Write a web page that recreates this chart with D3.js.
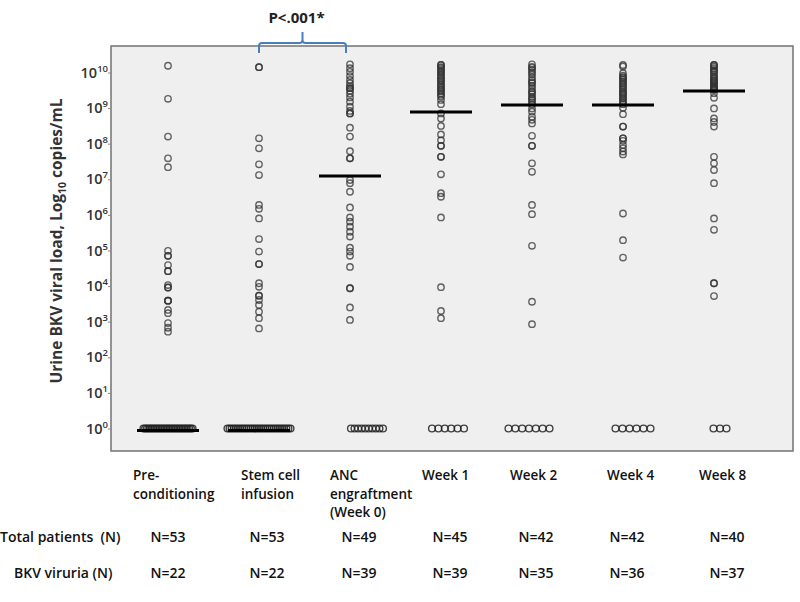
<!DOCTYPE html>
<html><head><meta charset="utf-8">
<script src="https://cdn.jsdelivr.net/npm/d3@7"></script>
<style>body{margin:0;background:#fff} svg{display:block} text{font-family:"Open Sans",sans-serif}</style>
</head><body><svg id="c" width="800" height="602"></svg>
<script>
// ---------- DATA ----------
const categories = ["Pre-conditioning","Stem cell infusion","ANC engraftment (Week 0)","Week 1","Week 2","Week 4","Week 8"];
const categoryLines = [["Pre-","conditioning"],["Stem cell","infusion"],["ANC","engraftment","(Week 0)"],["Week 1"],["Week 2"],["Week 4"],["Week 8"]];
const totalPatients = [53,53,49,45,42,42,40];
const bkvViruria = [22,22,39,39,35,36,37];
// detected urine BKV loads, log10 copies/mL (undetectable patients are plotted at 10^0)
const logLoadPre = [10.19,9.26,8.20,7.59,7.34,4.99,4.85,4.85,4.59,4.42,4.42,4.03,3.96,3.96,3.59,3.59,3.59,3.33,3.24,2.96,2.83,2.72];
const logLoadStem = [10.15,10.15,8.15,7.87,7.42,7.12,6.28,6.17,5.90,5.32,4.97,4.62,4.62,4.08,3.98,3.73,3.73,3.61,3.47,3.28,3.10,2.81];
const logLoadANC = [10.23,10.12,10.02,9.90,9.79,9.70,9.62,9.56,9.56,9.49,9.40,9.30,9.18,9.04,8.92,8.85,8.85,8.45,8.20,7.79,7.59,7.59,
  6.98,6.89,6.65,6.21,5.93,5.81,5.67,5.53,5.39,5.08,4.97,4.85,4.54,3.94,3.94,3.40,3.05];
const logLoadWk1 = [10.21,10.21,10.15,10.12,10.07,10.02,9.99,9.93,9.89,9.84,9.79,9.76,9.70,9.65,9.60,9.56,9.51,9.47,9.42,9.37,9.32,9.23,9.11,
  8.85,8.71,8.50,8.26,8.10,7.94,7.94,7.63,7.63,7.14,6.61,6.51,5.93,3.97,3.30,3.10];
const logLoadWk2 = [10.23,10.16,10.13,10.07,10.01,9.95,9.87,9.79,9.73,9.70,9.63,9.56,9.48,9.44,9.39,9.32,9.27,9.23,9.17,9.11,
  8.99,8.90,8.76,8.67,8.57,8.22,7.94,7.94,7.45,7.21,6.28,6.02,5.13,3.56,2.93];
const logLoadWk4 = [10.21,10.17,9.98,9.91,9.87,9.84,9.79,9.74,9.70,9.65,9.61,9.56,9.51,9.46,9.42,9.39,9.34,9.29,9.26,9.20,9.16,9.11,
  9.01,8.83,8.48,8.48,8.15,8.15,8.08,7.96,7.87,7.78,7.70,6.04,5.29,4.80];
const logLoadWk8 = [10.21,10.21,10.17,10.12,10.07,10.04,10.01,9.95,9.90,9.86,9.82,9.78,9.76,9.73,9.70,9.66,9.63,9.60,9.57,9.55,9.52,9.51,
  9.42,9.29,8.99,8.71,8.61,8.48,7.63,7.45,7.26,6.89,5.90,5.58,4.08,4.08,3.72];
const detectedLoads = [logLoadPre,logLoadStem,logLoadANC,logLoadWk1,logLoadWk2,logLoadWk4,logLoadWk8];
const medianLogLoad = [0,0,7.09,8.89,9.09,9.09,9.48];
const yTicks = [0,1,2,3,4,5,6,7,8,9,10];
const pValueText = "P<.001*";

// ---------- LAYOUT (style, not data) ----------
const zeroShift = [0,0,17,7,-3,10,6];
const zeroSpread = [49,63,32,32,41,35,13];
const catLabelDx = [-35,-18,-20,-19,-22,-16,-15];
const nLabelDx = [0,8,9,9,4,4,13];

const svg = d3.select("#c");
const plot = {x0:111, x1:793, y0:46, y1:451};
const x = d3.scalePoint().domain(categories).range([168,714]);
const y = d3.scaleLinear().domain([0,10]).range([428.5,72.5]);

svg.append("rect").attr("x",plot.x0).attr("y",plot.y0).attr("width",plot.x1-plot.x0).attr("height",plot.y1-plot.y0)
  .attr("fill","#efefef").attr("stroke","#7a7a7a").attr("stroke-width",1.6);

// y axis
const yAxis = d3.axisLeft(y).tickValues(yTicks).tickSize(3).tickFormat("");
const ga = svg.append("g").attr("transform",`translate(${plot.x0},0)`).call(yAxis);
ga.select(".domain").remove();
ga.selectAll("line").attr("stroke","#888");
yTicks.forEach(k=>{
  const t = svg.append("text").attr("x",108).attr("y",y(k)+5).attr("text-anchor","end")
    .attr("font-size",14.5).attr("font-weight",600).attr("fill","#333");
  t.append("tspan").text("10");
  t.append("tspan").attr("font-size",9.5).attr("dy",-6).text(k);
});
const yt = svg.append("text").attr("transform",`translate(62,241) rotate(-90)`).attr("text-anchor","middle")
  .attr("font-size",15.5).attr("font-weight",700).attr("fill","#333");
yt.append("tspan").text("Urine BKV viral load, Log");
yt.append("tspan").attr("font-size",10.5).attr("dy",4).text("10");
yt.append("tspan").attr("dy",-4).text(" copies/mL");

// points
categories.forEach((c,i)=>{
  const cx = x(c);
  svg.append("g").selectAll("circle").data(detectedLoads[i]).join("circle")
    .attr("cx",cx).attr("cy",d=>y(d)).attr("r",3.2)
    .attr("fill","none").attr("stroke","#333").attr("stroke-opacity",0.75).attr("stroke-width",1.4);
  const nz = totalPatients[i]-bkvViruria[i];
  const zeros = d3.range(nz).map(()=>0);
  const step = nz>1 ? zeroSpread[i]/(nz-1) : 0;
  svg.append("g").selectAll("circle").data(zeros).join("circle")
    .attr("cx",(d,j)=>cx+zeroShift[i]+(j-(nz-1)/2)*step).attr("cy",d=>y(d)).attr("r",3.4)
    .attr("fill","none").attr("stroke","#222").attr("stroke-opacity",0.85).attr("stroke-width",1.4);
  // median
  const my = y(medianLogLoad[i])+(medianLogLoad[i]===0?2:0);
  svg.append("line").attr("x1",cx-31).attr("x2",cx+31).attr("y1",my).attr("y2",my).attr("stroke","#000").attr("stroke-width",3);
});

// bracket + p value
const bx0 = x(categories[1]), bx1 = x(categories[2])-4, bm = (bx0+bx1)/2;
svg.append("path").attr("d",`M${bx0},53 L${bx0},46 Q${bx0},43 ${bx0+3},43 L${bm-3},43 Q${bm},43 ${bm},40 L${bm},32 M${bm},40 Q${bm},43 ${bm+3},43 L${bx1-3},43 Q${bx1},43 ${bx1},46 L${bx1},53`)
  .attr("fill","none").attr("stroke","#4a7ebb").attr("stroke-width",2);
svg.append("text").attr("x",bm-6).attr("y",23).attr("text-anchor","middle").attr("font-size",15).attr("font-weight",700)
  .attr("fill","#222").text(pValueText);

// category labels
categories.forEach((c,i)=>{
  const t = svg.append("text").attr("x",x(c)+catLabelDx[i]).attr("y",480).attr("font-size",13.5).attr("font-weight",600).attr("fill","#111");
  categoryLines[i].forEach((l,j)=>t.append("tspan").attr("x",x(c)+catLabelDx[i]).attr("dy",j?18.5:0).text(l));
  svg.append("text").attr("x",x(c)+nLabelDx[i]).attr("y",542).attr("text-anchor","middle").attr("font-size",14).attr("font-weight",600).attr("fill","#111").text("N="+totalPatients[i]);
  svg.append("text").attr("x",x(c)+nLabelDx[i]).attr("y",578).attr("text-anchor","middle").attr("font-size",14).attr("font-weight",600).attr("fill","#111").text("N="+bkvViruria[i]);
});
svg.append("text").attr("x",0).attr("y",542).attr("font-size",14).attr("font-weight",600).attr("fill","#111").attr("xml:space","preserve").text("Total patients  (N)");
svg.append("text").attr("x",14).attr("y",578).attr("font-size",14).attr("font-weight",600).attr("fill","#111").text("BKV viruria (N)");
</script></body></html>
